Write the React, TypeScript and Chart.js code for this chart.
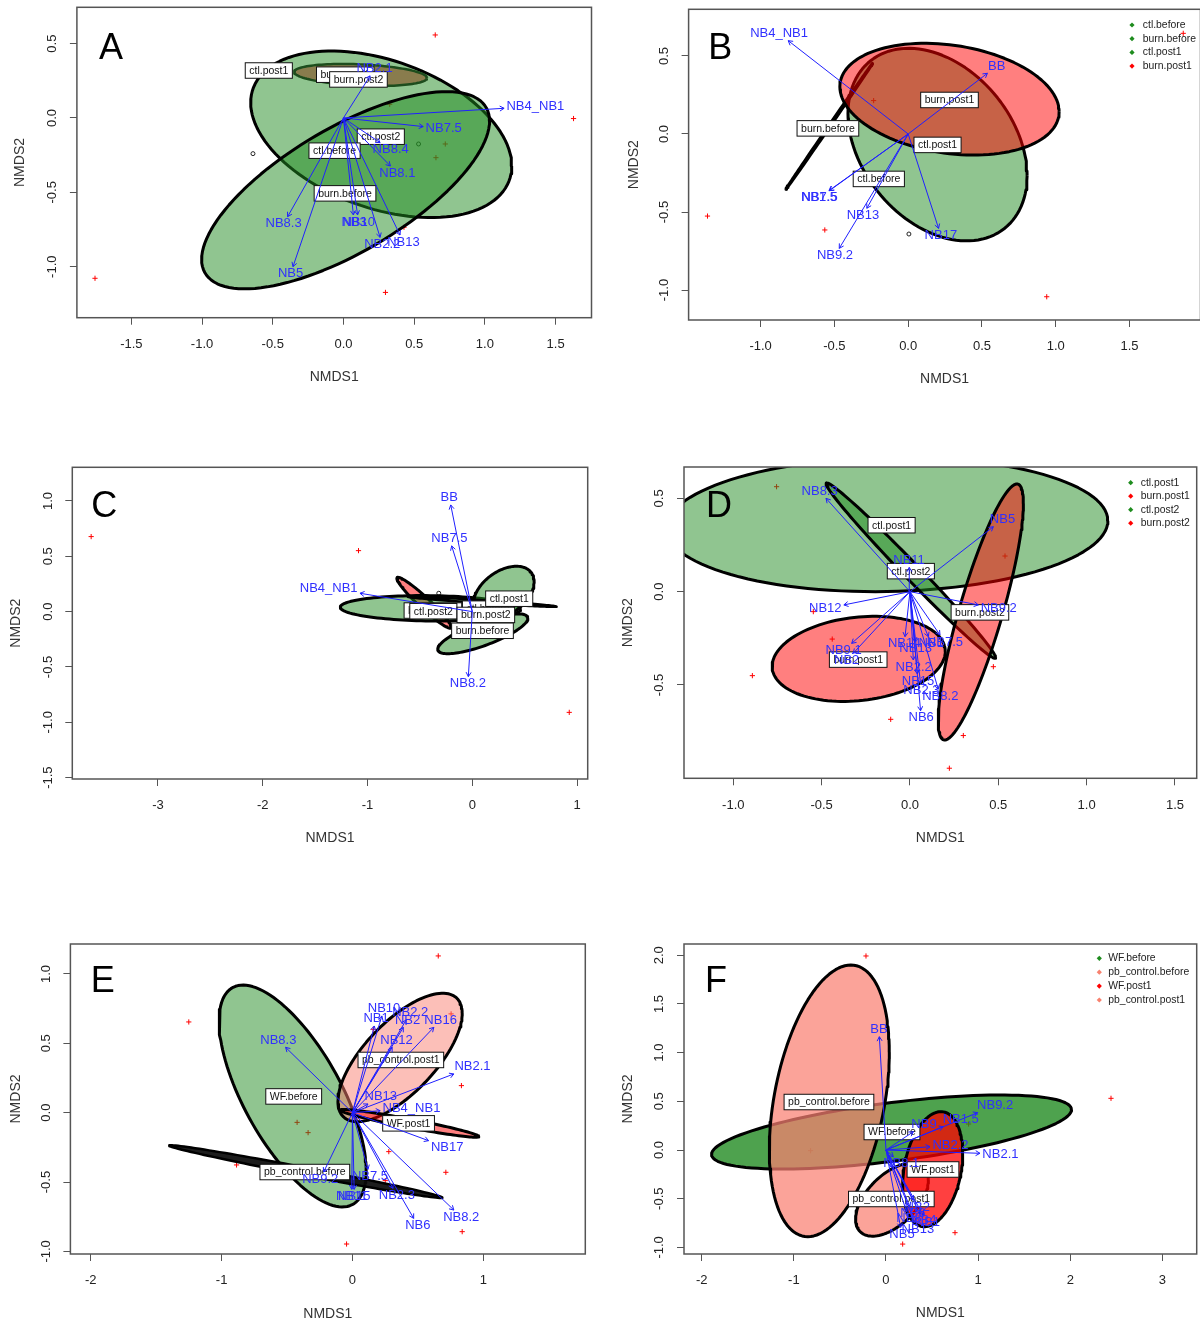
import React, { useEffect, useRef } from 'react';
import { Chart, registerables } from 'chart.js';

Chart.register(...registerables);

const FONT = '"Liberation Sans", Arial, Helvetica, sans-serif';
const ARROW_COLOR = '#1f1fff';
const ARROW_TEXT = '#3030ff';
const GREEN = 'rgba(34,139,34,0.5)';
const RED = 'rgba(255,0,0,0.5)';
const NONE = 'rgba(0,0,0,0)';

// ---------------- Panel A ----------------
const A_X_TICKS = [-1.5, -1, -0.5, 0, 0.5, 1, 1.5];
const A_X_LABELS = ['-1.5', '-1.0', '-0.5', '0.0', '0.5', '1.0', '1.5'];
const A_Y_TICKS = [-1, -0.5, 0, 0.5];
const A_Y_LABELS = ['-1.0', '-0.5', '0.0', '0.5'];
// ellipse: centre x, centre y, x half-extent, y half-extent, y offset of right-most point
const A_ELLIPSES = [
  [0.267, -0.11, 0.923, 0.56, -0.213],
  [0.015, -0.486, 1.018, 0.663, 0.465],
  [0.121, 0.289, 0.47, 0.074, -0.02],
];
const A_VEC_NAMES = ['NB2.1', 'NB4_NB1', 'NB7.5', 'NB8.4', 'NB8.1', 'NB8.3', 'NB5', 'NB3', 'NB10', 'NB2.2', 'NB13'];
const A_VEC_X = [0.188, 1.136, 0.564, 0.259, 0.332, -0.395, -0.357, 0.07, 0.1, 0.259, 0.4];
const A_VEC_Y = [0.283, 0.065, -0.058, -0.166, -0.323, -0.664, -1.0, -0.652, -0.652, -0.803, -0.787];
const A_PLUS_X = [0.649, 1.627, -1.757, 0.297, 0.327, 0.72, 0.654, 0.428];
const A_PLUS_Y = [0.558, -0.004, -1.078, -1.173, 0.092, -0.175, -0.267, -0.735];
const A_CIRC_X = [-0.64, 0.531];
const A_CIRC_Y = [-0.24, -0.175];
const A_GROUPS = ['ctl.post1', 'burn.post1', 'burn.post2', 'ctl.post2', 'ctl.before', 'burn.before'];
const A_GROUP_X = [-0.528, 0.013, 0.106, 0.264, -0.063, 0.011];
const A_GROUP_Y = [0.319, 0.291, 0.259, -0.126, -0.22, -0.507];

// ---------------- Panel B ----------------
const B_X_TICKS = [-1, -0.5, 0, 0.5, 1, 1.5];
const B_X_LABELS = ['-1.0', '-0.5', '0.0', '0.5', '1.0', '1.5'];
const B_Y_TICKS = [-1, -0.5, 0, 0.5];
const B_Y_LABELS = ['-1.0', '-0.5', '0.0', '0.5'];
const B_ELLIPSES = [
  [0.199, -0.068, 0.607, 0.617, -0.2],
  [-0.535, 0.049, 0.294, 0.404, 0.4039],
  [0.28, 0.223, 0.743, 0.358, -0.08],
];
const B_VEC_NAMES = ['NB4_NB1', 'BB', 'NB7.5', 'NB1.5', 'NB13', 'NB9.2', 'NB17'];
const B_VEC_X = [-0.813, 0.537, -0.533, -0.537, -0.28, -0.467, 0.206];
const B_VEC_Y = [0.598, 0.389, -0.363, -0.363, -0.476, -0.733, -0.605];
const B_PLUS_X = [-1.36, -0.565, 0.939, -0.234, 1.864];
const B_PLUS_Y = [-0.526, -0.615, -1.043, 0.214, 0.645];
const B_CIRC_X = [0.005];
const B_CIRC_Y = [-0.641];
const B_GROUPS = ['burn.post1', 'burn.before', 'ctl.post1', 'ctl.before'];
const B_GROUP_X = [0.28, -0.544, 0.199, -0.199];
const B_GROUP_Y = [0.218, 0.036, -0.07, -0.288];
const B_LEGEND = ['ctl.before', 'burn.before', 'ctl.post1', 'burn.post1'];

// ---------------- Panel C ----------------
const C_X_TICKS = [-3, -2, -1, 0, 1];
const C_X_LABELS = ['-3', '-2', '-1', '0', '1'];
const C_Y_TICKS = [-1.5, -1, -0.5, 0, 0.5, 1];
const C_Y_LABELS = ['-1.5', '-1.0', '-0.5', '0.0', '0.5', '1.0'];
const C_ELLIPSES = [
  [-0.46, 0.08, 0.26, 0.23, -0.22],
  [-0.4, 0.03, 0.86, 0.115, -0.01],
  [0.1, -0.2, 0.43, 0.18, 0.14],
  [0.3, 0.17, 0.29, 0.24, 0.1],
  [0.095, 0.09, 0.71, 0.046, -0.044],
];
const C_VEC_NAMES = ['BB', 'NB7.5', 'NB4_NB1', 'NB8.2'];
const C_VEC_X = [-0.206, -0.197, -1.072, -0.038];
const C_VEC_Y = [0.964, 0.594, 0.166, -0.587];
const C_PLUS_X = [-3.637, -1.086, 0.925];
const C_PLUS_Y = [0.678, 0.551, -0.91];
const C_CIRC_X = [-0.32];
const C_CIRC_Y = [0.166];
const C_GROUPS = ['burn.post1', 'ctl.before', 'ctl.post2', 'ctl.post1', 'burn.post2', 'burn.before'];
const C_GROUP_X = [-0.376, 0.15, -0.372, 0.352, 0.129, 0.097];
const C_GROUP_Y = [0.01, 0.027, 0.004, 0.117, -0.03, -0.173];

// ---------------- Panel D ----------------
const D_X_TICKS = [-1, -0.5, 0, 0.5, 1, 1.5];
const D_X_LABELS = ['-1.0', '-0.5', '0.0', '0.5', '1.0', '1.5'];
const D_Y_TICKS = [-0.5, 0, 0.5];
const D_Y_LABELS = ['-0.5', '0.0', '0.5'];
const D_ELLIPSES = [
  [-0.13, 0.36, 1.25, 0.36, 0.02],
  [0.005, 0.113, 0.48, 0.47, -0.466],
  [-0.29, -0.36, 0.49, 0.228, 0.04],
  [0.401, -0.109, 0.241, 0.686, 0.582],
];
const D_VEC_NAMES = ['NB8.3', 'NB5', 'NB11', 'NB12', 'NB9.2', 'NB7.5', 'NB1', 'NB9.1', 'NB2', 'NB14', 'NB13', 'NB2.2', 'NB15', 'NB2.3', 'NB8.2', 'NB6'];
const D_VEC_X = [-0.475, 0.472, -0.004, -0.374, 0.387, 0.17, 0.104, -0.33, -0.321, -0.028, 0.028, 0.019, 0.042, 0.06, 0.16, 0.06];
const D_VEC_Y = [0.5, 0.348, 0.13, -0.071, -0.071, -0.232, -0.241, -0.277, -0.33, -0.241, -0.268, -0.366, -0.441, -0.491, -0.523, -0.638];
const D_PLUS_X = [-0.755, 0.538, -0.44, -0.892, -0.109, 0.472, 0.302, 0.223, -0.547];
const D_PLUS_Y = [0.5625, 0.191, -0.254, -0.45, -0.684, -0.402, -0.771, -0.946, -0.107];
const D_CIRC_X: number[] = [];
const D_CIRC_Y: number[] = [];
const D_GROUPS = ['ctl.post1', 'ctl.post2', 'burn.post2', 'burn.post1'];
const D_GROUP_X = [-0.104, 0.005, 0.396, -0.293];
const D_GROUP_Y = [0.356, 0.11, -0.111, -0.364];
const D_LEGEND = ['ctl.post1', 'burn.post1', 'ctl.post2', 'burn.post2'];

// ---------------- Panel E ----------------
const E_X_TICKS = [-2, -1, 0, 1];
const E_X_LABELS = ['-2', '-1', '0', '1'];
const E_Y_TICKS = [-1, -0.5, 0, 0.5, 1];
const E_Y_LABELS = ['-1.0', '-0.5', '0.0', '0.5', '1.0'];
const E_ELLIPSES = [
  [-0.457, 0.12, 0.5625, 0.8, -0.54],
  [-0.357, -0.425, 1.045, 0.19, -0.1878],
  [0.364, 0.398, 0.475, 0.463, 0.318],
  [0.437, -0.077, 0.53, 0.1, -0.095],
];
const E_VEC_NAMES = ['NB8.3', 'NB10', 'NB1', 'NB2.2', 'NB2', 'NB16', 'NB12', 'NB2.1', 'NB13', 'NB4_NB1', 'NB17', 'NB7.5', 'NB9.2', 'NB11', 'NB15', 'NB2.3', 'NB6', 'NB8.2'];
const E_VEC_X = [-0.511, 0.225, 0.167, 0.41, 0.389, 0.622, 0.304, 0.775, 0.119, 0.212, 0.582, 0.119, -0.22, -0.005, 0.013, 0.31, 0.468, 0.775];
const E_VEC_Y = [0.471, 0.697, 0.625, 0.668, 0.615, 0.615, 0.471, 0.279, 0.0625, 0.014, -0.202, -0.409, -0.428, -0.553, -0.553, -0.546, -0.762, -0.702];
const E_PLUS_X = [0.656, -1.251, 0.754, 0.833, 0.159, 0.278, 0.714, 0.251, 0.839, -0.045, -0.886, -0.423, -0.339];
const E_PLUS_Y = [1.13, 0.654, 0.712, 0.195, 0.601, -0.281, -0.43, -0.49, -0.858, -0.947, -0.377, -0.07, -0.144];
const E_CIRC_X: number[] = [];
const E_CIRC_Y: number[] = [];
const E_GROUPS = ['pb_control.post1', 'WF.before', 'WF.post1', 'pb_control.before'];
const E_GROUP_X = [0.37, -0.449, 0.429, -0.364];
const E_GROUP_Y = [0.38, 0.117, -0.077, -0.428];

// ---------------- Panel F ----------------
const F_X_TICKS = [-2, -1, 0, 1, 2, 3];
const F_X_LABELS = ['-2', '-1', '0', '1', '2', '3'];
const F_Y_TICKS = [-1, -0.5, 0, 0.5, 1, 1.5, 2];
const F_Y_LABELS = ['-1.0', '-0.5', '0.0', '0.5', '1.0', '1.5', '2.0'];
const F_ELLIPSES = [
  [0.06, 0.185, 1.953, 0.38, 0.23],
  [-0.615, 0.505, 0.651, 1.395, 0.5],
  [0.065, -0.51, 0.395, 0.375, 0.2],
  [0.507, -0.197, 0.326, 0.591, 0.163],
];
const F_VEC_NAMES = ['BB', 'NB9.2', 'NB9', 'NB1.5', 'NB2.2', 'NB2.1', 'NB8.1', 'NB2', 'NB6', 'NB8', 'NB4', 'NB1', 'NB13', 'NB5'];
const F_VEC_X = [-0.072, 0.995, 0.297, 0.622, 0.478, 1.02, 0.08, 0.297, 0.26, 0.224, 0.369, 0.405, 0.315, 0.159];
const F_VEC_Y = [1.164, 0.384, 0.188, 0.24, 0.034, -0.034, -0.068, -0.514, -0.582, -0.634, -0.651, -0.668, -0.747, -0.795];
const F_PLUS_X = [-0.217, 2.442, 0.749, 0.181, 0.897, -0.818];
const F_PLUS_Y = [1.993, 0.531, -0.849, -0.966, 0.267, -0.007];
const F_CIRC_X: number[] = [];
const F_CIRC_Y: number[] = [];
const F_GROUPS = ['pb_control.before', 'WF.before', 'WF.post1', 'pb_control.post1'];
const F_GROUP_X = [-0.619, 0.065, 0.51, 0.058];
const F_GROUP_Y = [0.493, 0.185, -0.2, -0.503];
const F_LEGEND = ['WF.before', 'pb_control.before', 'WF.post1', 'pb_control.post1'];

// ---------------- Panel layout / styles ----------------
const PANELS: any[] = [
  {
    letter: 'A', letterDx: 34, letterDy: 39,
    box: { l: 76.9, r: 591.5, t: 7.3, b: 317.7 }, titleXy: 378, titleYx: 20,
    xMin: -1.885, xMax: 1.754, yMin: -1.343, yMax: 0.744,
    xTicks: A_X_TICKS, xLabels: A_X_LABELS, yTicks: A_Y_TICKS, yLabels: A_Y_LABELS,
    ellipses: A_ELLIPSES, ellFill: [GREEN, GREEN, 'rgba(133,66,24,0.55)'], ellStroke: ['#000', '#000', '#1d4d1d'], ellWidth: [3, 3, 2.5],
    vecNames: A_VEC_NAMES, vecX: A_VEC_X, vecY: A_VEC_Y,
    plusX: A_PLUS_X, plusY: A_PLUS_Y, circX: A_CIRC_X, circY: A_CIRC_Y,
    groups: A_GROUPS, groupX: A_GROUP_X, groupY: A_GROUP_Y, legend: null,
  },
  {
    letter: 'B', letterDx: 31.7, letterDy: 37,
    box: { l: 688.6, r: 1200.5, t: 9.3, b: 320 }, titleXy: 380, titleYx: 634,
    xMin: -1.488, xMax: 1.981, yMin: -1.192, yMax: 0.799,
    xTicks: B_X_TICKS, xLabels: B_X_LABELS, yTicks: B_Y_TICKS, yLabels: B_Y_LABELS,
    ellipses: B_ELLIPSES, ellFill: [GREEN, NONE, RED], ellStroke: ['#000', '#000', '#000'], ellWidth: [3, 3, 3],
    vecNames: B_VEC_NAMES, vecX: B_VEC_X, vecY: B_VEC_Y,
    plusX: B_PLUS_X, plusY: B_PLUS_Y, circX: B_CIRC_X, circY: B_CIRC_Y,
    groups: B_GROUPS, groupX: B_GROUP_X, groupY: B_GROUP_Y,
    legend: { labels: B_LEGEND, colors: ['#1e8c1e', '#1e8c1e', '#1e8c1e', '#ff0000'], dx: 68.5, dy: 15.7, step: 13.7, gap: 10.8 },
  },
  {
    letter: 'C', letterDx: 32, letterDy: 37,
    box: { l: 72.3, r: 587.7, t: 467.3, b: 779 }, titleXy: 839, titleYx: 16,
    xMin: -3.817, xMax: 1.101, yMin: -1.512, yMax: 1.304,
    xTicks: C_X_TICKS, xLabels: C_X_LABELS, yTicks: C_Y_TICKS, yLabels: C_Y_LABELS,
    ellipses: C_ELLIPSES, ellFill: [RED, GREEN, GREEN, GREEN, NONE], ellStroke: ['#000', '#000', '#000', '#000', '#000'], ellWidth: [3, 3, 3, 3, 2.5],
    vecNames: C_VEC_NAMES, vecX: C_VEC_X, vecY: C_VEC_Y,
    plusX: C_PLUS_X, plusY: C_PLUS_Y, circX: C_CIRC_X, circY: C_CIRC_Y,
    groups: C_GROUPS, groupX: C_GROUP_X, groupY: C_GROUP_Y, legend: null,
  },
  {
    letter: 'D', letterDx: 35, letterDy: 37,
    box: { l: 684, r: 1196.7, t: 467, b: 778.3 }, titleXy: 839, titleYx: 628,
    xMin: -1.279, xMax: 1.623, yMin: -1.0, yMax: 0.668,
    xTicks: D_X_TICKS, xLabels: D_X_LABELS, yTicks: D_Y_TICKS, yLabels: D_Y_LABELS,
    ellipses: D_ELLIPSES, ellFill: [GREEN, GREEN, RED, RED], ellStroke: ['#000', '#000', '#000', '#000'], ellWidth: [3, 3, 3, 3],
    vecNames: D_VEC_NAMES, vecX: D_VEC_X, vecY: D_VEC_Y,
    plusX: D_PLUS_X, plusY: D_PLUS_Y, circX: D_CIRC_X, circY: D_CIRC_Y,
    groups: D_GROUPS, groupX: D_GROUP_X, groupY: D_GROUP_Y,
    legend: { labels: D_LEGEND, colors: ['#1e8c1e', '#ff0000', '#1e8c1e', '#ff0000'], dx: 66, dy: 15.7, step: 13.5, gap: 10 },
  },
  {
    letter: 'E', letterDx: 32.4, letterDy: 35,
    box: { l: 70.4, r: 585.3, t: 944, b: 1254 }, titleXy: 1315, titleYx: 16,
    xMin: -2.156, xMax: 1.78, yMin: -1.019, yMax: 1.216,
    xTicks: E_X_TICKS, xLabels: E_X_LABELS, yTicks: E_Y_TICKS, yLabels: E_Y_LABELS,
    ellipses: E_ELLIPSES, ellFill: [GREEN, 'rgba(10,10,10,0.92)', 'rgba(250,128,114,0.5)', RED], ellStroke: ['#000', '#000', '#000', '#000'], ellWidth: [3, 2.5, 3, 3],
    vecNames: E_VEC_NAMES, vecX: E_VEC_X, vecY: E_VEC_Y,
    plusX: E_PLUS_X, plusY: E_PLUS_Y, circX: E_CIRC_X, circY: E_CIRC_Y,
    groups: E_GROUPS, groupX: E_GROUP_X, groupY: E_GROUP_Y, legend: null,
  },
  {
    letter: 'F', letterDx: 32, letterDy: 35,
    box: { l: 684, r: 1196.7, t: 944, b: 1254 }, titleXy: 1314, titleYx: 628,
    xMin: -2.192, xMax: 3.372, yMin: -1.068, yMax: 2.116,
    xTicks: F_X_TICKS, xLabels: F_X_LABELS, yTicks: F_Y_TICKS, yLabels: F_Y_LABELS,
    ellipses: F_ELLIPSES, ellFill: ['rgba(34,139,34,0.8)', 'rgba(250,128,114,0.72)', 'rgba(250,128,114,0.72)', 'rgba(255,0,0,0.75)'], ellStroke: ['#000', '#000', '#000', '#000'], ellWidth: [3, 3, 3, 3],
    vecNames: F_VEC_NAMES, vecX: F_VEC_X, vecY: F_VEC_Y,
    plusX: F_PLUS_X, plusY: F_PLUS_Y, circX: F_CIRC_X, circY: F_CIRC_Y,
    groups: F_GROUPS, groupX: F_GROUP_X, groupY: F_GROUP_Y,
    legend: { labels: F_LEGEND, colors: ['#1e8c1e', '#f8826f', '#ff0000', '#f8826f'], dx: 97.4, dy: 14.3, step: 13.9, gap: 9 },
  },
];

function ellipsePoints(e: number[]) {
  const [cx, cy, xe, ye, yo] = e;
  const s = Math.sqrt(Math.max(ye * ye - yo * yo, 0));
  const pts: any[] = [];
  for (let i = 0; i <= 120; i++) {
    const t = (i / 120) * Math.PI * 2;
    pts.push({ x: cx + xe * Math.cos(t), y: cy + yo * Math.cos(t) + s * Math.sin(t) });
  }
  return pts;
}

function makePlugin(p: any, arrowStart: number) {
  let boxesDone = false;
  const drawGroups = (chart: any) => {
    const { ctx } = chart;
    const xs = chart.scales.x, ys = chart.scales.y;
    ctx.save();
    ctx.font = `10.5px ${FONT}`;
    ctx.textAlign = 'center';
    ctx.textBaseline = 'middle';
    p.groups.forEach((g: string, i: number) => {
      const px = xs.getPixelForValue(p.groupX[i]);
      const py = ys.getPixelForValue(p.groupY[i]);
      const w = ctx.measureText(g).width + 8;
      const h = 15.5;
      ctx.fillStyle = '#fff';
      ctx.fillRect(px - w / 2, py - h / 2, w, h);
      ctx.strokeStyle = '#111';
      ctx.lineWidth = 1;
      ctx.strokeRect(px - w / 2, py - h / 2, w, h);
      ctx.fillStyle = '#111';
      ctx.fillText(g, px, py + 0.5);
    });
    ctx.restore();
  };
  const drawArrows = (chart: any) => {
    const { ctx } = chart;
    const xs = chart.scales.x, ys = chart.scales.y;
    const ox = xs.getPixelForValue(0), oy = ys.getPixelForValue(0);
    ctx.save();
    ctx.strokeStyle = ARROW_COLOR;
    ctx.lineWidth = 1;
    ctx.font = `13px ${FONT}`;
    ctx.textAlign = 'center';
    ctx.textBaseline = 'middle';
    p.vecNames.forEach((name: string, i: number) => {
      const tx = xs.getPixelForValue(p.vecX[i]);
      const ty = ys.getPixelForValue(p.vecY[i]);
      const ang = Math.atan2(ty - oy, tx - ox);
      const L = 5, A = Math.PI / 6;
      ctx.beginPath();
      ctx.moveTo(tx - L * Math.cos(ang - A), ty - L * Math.sin(ang - A));
      ctx.lineTo(tx, ty);
      ctx.lineTo(tx - L * Math.cos(ang + A), ty - L * Math.sin(ang + A));
      ctx.stroke();
      const w = ctx.measureText(name).width;
      const h = 9.5;
      const vx = tx - ox, vy = oy - ty;
      let offX = Math.sign(vx) * (w / 2 + h / 4);
      let offY = 0.75 * h * Math.sign(vy);
      const b = vy / vx;
      const move = offY / b;
      if (isFinite(move) && Math.abs(move) <= Math.abs(offX)) offX = move;
      else offY = b * offX;
      ctx.fillStyle = ARROW_TEXT;
      ctx.fillText(name, tx + offX, ty - offY);
    });
    ctx.restore();
  };
  return {
    id: 'nmds' + p.letter,
    beforeDatasetsDraw() {
      boxesDone = false;
    },
    beforeDatasetDraw(chart: any, args: any) {
      if (!boxesDone && args.index >= arrowStart) {
        drawGroups(chart);
        boxesDone = true;
      }
    },
    afterDatasetsDraw(chart: any) {
      if (!boxesDone) {
        drawGroups(chart);
        boxesDone = true;
      }
      drawArrows(chart);
      const { ctx, chartArea } = chart;
      ctx.save();
      ctx.strokeStyle = '#555';
      ctx.lineWidth = 1.5;
      ctx.strokeRect(chartArea.left, chartArea.top, chartArea.right - chartArea.left, chartArea.bottom - chartArea.top);
      if (p.legend) {
        const lg = p.legend;
        ctx.font = `10.4px ${FONT}`;
        ctx.textAlign = 'left';
        ctx.textBaseline = 'middle';
        lg.labels.forEach((lab: string, i: number) => {
          const sx = chartArea.right - lg.dx;
          const sy = chartArea.top + lg.dy + i * lg.step;
          ctx.fillStyle = lg.colors[i];
          ctx.beginPath();
          ctx.moveTo(sx, sy - 2.6);
          ctx.lineTo(sx + 2.6, sy);
          ctx.lineTo(sx, sy + 2.6);
          ctx.lineTo(sx - 2.6, sy);
          ctx.closePath();
          ctx.fill();
          ctx.fillStyle = '#222';
          ctx.fillText(lab, sx + lg.gap, sy);
        });
      }
      ctx.font = `36px ${FONT}`;
      ctx.fillStyle = '#000';
      ctx.textAlign = 'center';
      ctx.textBaseline = 'alphabetic';
      ctx.fillText(p.letter, chartArea.left + p.letterDx, chartArea.top + p.letterDy + 12.9);
      ctx.restore();
    },
  };
}

const TITLE_LH = 14 * 1.2;

function Panel({ p }: { p: any }) {
  const ref = useRef<HTMLCanvasElement>(null);
  const cl = Math.round(p.titleYx - TITLE_LH / 2);
  const ct = Math.round(p.box.t - 18);
  const cr = Math.round(p.box.r + 18);
  const cb = Math.round(p.titleXy + TITLE_LH / 2);
  const W = cr - cl;
  const H = cb - ct;
  useEffect(() => {
    const yW = p.box.l - cl;
    const padTop = p.box.t - ct;
    const padRight = cr - p.box.r;
    const xH = cb - p.box.b;
    const datasets: any[] = [];
    datasets.push({
      label: 'plus', data: p.plusX.map((v: number, i: number) => ({ x: v, y: p.plusY[i] })),
      pointStyle: 'cross', pointRadius: 2.6, borderColor: '#ff0000', backgroundColor: '#ff0000', borderWidth: 1, order: 1000, clip: 0,
    });
    datasets.push({
      label: 'circ', data: p.circX.map((v: number, i: number) => ({ x: v, y: p.circY[i] })),
      pointStyle: 'circle', pointRadius: 2, borderColor: '#222', backgroundColor: NONE, borderWidth: 1, order: 999, clip: 0,
    });
    p.ellipses.forEach((e: number[], i: number) => {
      datasets.push({
        label: 'ellipse' + i, data: ellipsePoints(e), showLine: true, fill: 'shape',
        backgroundColor: p.ellFill[i], borderColor: p.ellStroke[i], borderWidth: p.ellWidth[i],
        borderJoinStyle: 'round', pointRadius: 0, pointHitRadius: 0, tension: 0, order: 500 - i, clip: 0,
      });
    });
    const arrowStart = datasets.length;
    p.vecNames.forEach((n: string, i: number) => {
      datasets.push({
        label: n, data: [{ x: 0, y: 0 }, { x: p.vecX[i], y: p.vecY[i] }], showLine: true, fill: false,
        borderColor: ARROW_COLOR, borderWidth: 1, pointRadius: 0, pointHitRadius: 0, order: 10, clip: 0,
      });
    });
    const tickFont = { family: FONT, size: 13 };
    const titleFont = { family: FONT, size: 14 };
    const grid = { display: true, drawOnChartArea: false, drawTicks: true, tickLength: 7, color: '#555', lineWidth: 1 };
    const chart = new Chart(ref.current as HTMLCanvasElement, {
      type: 'scatter',
      data: { datasets },
      plugins: [makePlugin(p, arrowStart)],
      options: {
        responsive: false, animation: false, devicePixelRatio: 1, events: [],
        layout: { padding: { top: padTop, right: padRight, left: 0, bottom: 0 } },
        plugins: { legend: { display: false }, tooltip: { enabled: false } },
        scales: {
          x: {
            type: 'linear', min: p.xMin, max: p.xMax,
            afterBuildTicks: (s: any) => { s.ticks = p.xTicks.map((v: number) => ({ value: v })); },
            afterFit: (s: any) => { s.height = xH; },
            ticks: { callback: (_v: any, i: number) => p.xLabels[i], font: tickFont, color: '#222', padding: 12, maxRotation: 0, minRotation: 0, autoSkip: false },
            grid, border: { display: false },
            title: { display: true, text: 'NMDS1', font: titleFont, color: '#333', padding: 0 },
          },
          y: {
            type: 'linear', min: p.yMin, max: p.yMax,
            afterBuildTicks: (s: any) => { s.ticks = p.yTicks.map((v: number) => ({ value: v })); },
            afterFit: (s: any) => { s.width = yW; },
            ticks: { callback: (_v: any, i: number) => p.yLabels[i], font: tickFont, color: '#222', padding: 6, minRotation: 90, maxRotation: 90, crossAlign: 'center', autoSkip: false },
            grid, border: { display: false },
            title: { display: true, text: 'NMDS2', font: titleFont, color: '#333', padding: 0 },
          },
        },
      } as any,
    });
    return () => chart.destroy();
  }, []);
  return (
    <canvas
      ref={ref}
      width={W}
      height={H}
      style={{ position: 'absolute', left: cl + 'px', top: ct + 'px', width: W + 'px', height: H + 'px' }}
    />
  );
}

export default function App() {
  return (
    <div style={{ position: 'absolute', left: 0, top: 0, width: '1200px', height: '1325px', overflow: 'hidden', background: '#fff' }}>
      {PANELS.map((p) => (
        <Panel key={p.letter} p={p} />
      ))}
    </div>
  );
}
